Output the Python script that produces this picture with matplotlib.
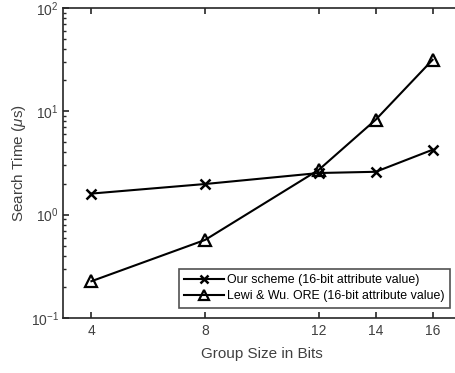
import matplotlib
matplotlib.use("Agg")
import matplotlib.pyplot as plt
from matplotlib.ticker import LogLocator, NullFormatter, FixedLocator

plt.rcParams['font.family'] = ['Liberation Sans', 'DejaVu Sans']
plt.rcParams['mathtext.fontset'] = 'custom'
plt.rcParams['mathtext.rm'] = 'Liberation Sans'
plt.rcParams['mathtext.it'] = 'Liberation Sans:italic'

group_bits = [4, 8, 12, 14, 16]
our_scheme = [1.60, 1.98, 2.53, 2.60, 4.25]
lewi_wu = [0.227, 0.57, 2.72, 8.3, 31.5]
xtick_labels = ['4', '8', '12', '14', '16']
label_ours = 'Our scheme (16-bit attribute value)'
label_lewi = 'Lewi & Wu. ORE (16-bit attribute value)'

gray = (0.15, 0.15, 0.15)
textgray = (0.25, 0.25, 0.25)
fig = plt.figure(figsize=(4.56, 3.73), dpi=100)
ax = fig.add_axes([63/456, 55/373, 398/456, 310/373])

ax.plot(group_bits, our_scheme, color='black', lw=1.5, marker='x', ms=7, mew=1.8, label=label_ours)
ax.plot(group_bits, lewi_wu, color='black', lw=1.5, marker='^', ms=9, mew=1.6, mfc='none', label=label_lewi)

ax.set_yscale('log')
ax.set_xlim(3, 17)
ax.set_ylim(0.1, 100)
ax.xaxis.set_major_locator(FixedLocator(group_bits))
ax.set_xticklabels(xtick_labels)
ax.yaxis.set_major_locator(LogLocator(base=10, numticks=10))
ax.yaxis.set_minor_locator(LogLocator(base=10, subs=range(2, 10), numticks=10))
ax.yaxis.set_minor_formatter(NullFormatter())

for s in ax.spines.values():
    s.set_color(gray)
    s.set_linewidth(1.2)
ax.tick_params(axis='both', which='major', direction='in', length=4, width=1.2,
               colors=gray, labelsize=10, top=True, right=True)
ax.tick_params(axis='x', which='major', pad=4, labelcolor=textgray)
ax.tick_params(axis='y', which='major', pad=3, labelcolor=textgray)
ax.tick_params(axis='y', which='minor', direction='in', length=2.5, width=1.0,
               colors=gray, right=True)

ax.set_xlabel('Group Size in Bits', fontsize=11, color=textgray, labelpad=7)
ax.set_ylabel(r'Search Time ($\mu$s)', fontsize=11, color=textgray, labelpad=2)

leg = ax.legend(loc='lower right', bbox_to_anchor=((450 - 63) / 398, 10 / 310),
                fontsize=8.9, frameon=True, fancybox=False, handlelength=3.2,
                borderpad=0.45, labelspacing=0.35, handletextpad=0.25, borderaxespad=0.0,
                markerscale=0.8)
leg.get_frame().set_edgecolor(gray)
leg.get_frame().set_linewidth(1.2)
for t in leg.get_texts():
    t.set_color('black')

fig.savefig('out.png', dpi=100)
